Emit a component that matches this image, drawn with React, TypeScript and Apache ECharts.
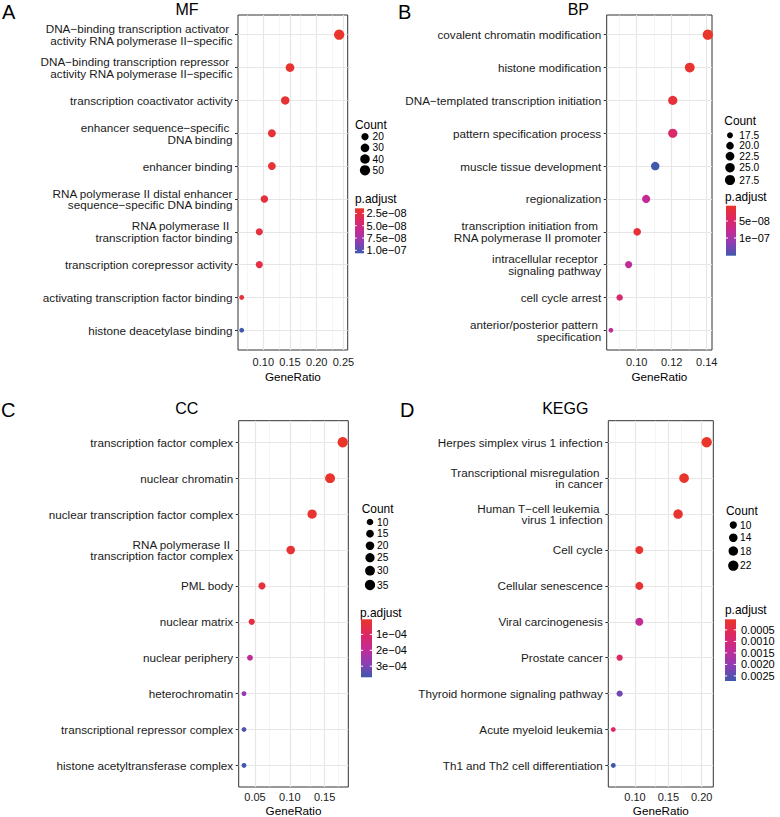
import React, { useEffect, useRef } from "react";
import * as echarts from "echarts";

const FONT = "'Liberation Sans', Arial, Helvetica, sans-serif";
const STOPS = ["#E9352A", "#DE2860", "#C42B93", "#8E3DB4", "#3F58AC"];

// ---------- MF ----------
const mfTerms = [
  "DNA−binding transcription activator \nactivity RNA polymerase II−specific",
  "DNA−binding transcription repressor \nactivity RNA polymerase II−specific",
  "transcription coactivator activity",
  "enhancer sequence−specific \nDNA binding",
  "enhancer binding",
  "RNA polymerase II distal enhancer\nsequence−specific DNA binding",
  "RNA polymerase II \ntranscription factor binding",
  "transcription corepressor activity",
  "activating transcription factor binding",
  "histone deacetylase binding",
];
const mfGeneRatio = [0.242, 0.15, 0.141, 0.116, 0.116, 0.102, 0.0925, 0.0925, 0.0595, 0.0595];
const mfCount = [50, 31, 29, 24, 24, 21, 19, 19, 12, 12];
const mfPAdjust = [1.5e-8, 1.7e-8, 1.9e-8, 2.1e-8, 2.0e-8, 2.3e-8, 2.4e-8, 2.6e-8, 2.2e-8, 1.06e-7];
const mfXLimits = [0.0526, 0.258];
const mfXTicks = [0.1, 0.15, 0.2, 0.25];
const mfCountBreaks = [20, 30, 40, 50];
const mfCountLabels = ["20", "30", "40", "50"];
const mfPLimits = [1.46e-8, 1.06e-7];
const mfPBreaks = [2.5e-8, 5.0e-8, 7.5e-8, 1.0e-7];
const mfPLabels = ["2.5e−08", "5.0e−08", "7.5e−08", "1.0e−07"];

// ---------- BP ----------
const bpTerms = [
  "covalent chromatin modification",
  "histone modification",
  "DNA−templated transcription initiation",
  "pattern specification process",
  "muscle tissue development",
  "regionalization",
  "transcription initiation from \nRNA polymerase II promoter",
  "intracellular receptor \nsignaling pathway",
  "cell cycle arrest",
  "anterior/posterior pattern \nspecification",
];
const bpGeneRatio = [0.1406, 0.1303, 0.1206, 0.1206, 0.1106, 0.1054, 0.1003, 0.0954, 0.0903, 0.0853];
const bpCount = [28, 26, 24, 24, 22, 21, 20, 19, 18, 17];
const bpPAdjust = [5e-9, 1.0e-8, 1.6e-8, 4.8e-8, 1.52e-7, 7.8e-8, 1.4e-8, 8.2e-8, 5.2e-8, 8.4e-8];
const bpXLimits = [0.0829, 0.143];
const bpXTicks = [0.1, 0.12, 0.14];
const bpCountBreaks = [17.5, 20, 22.5, 25, 27.5];
const bpCountLabels = ["17.5", "20.0", "22.5", "25.0", "27.5"];
const bpPLimits = [5e-9, 1.52e-7];
const bpPBreaks = [5e-8, 1e-7];
const bpPLabels = ["5e−08", "1e−07"];

// ---------- CC ----------
const ccTerms = [
  "transcription factor complex",
  "nuclear chromatin",
  "nuclear transcription factor complex",
  "RNA polymerase II \ntranscription factor complex",
  "PML body",
  "nuclear matrix",
  "nuclear periphery",
  "heterochromatin",
  "transcriptional repressor complex",
  "histone acetyltransferase complex",
];
const ccGeneRatio = [0.176, 0.1578, 0.132, 0.1013, 0.06, 0.0453, 0.0428, 0.0342, 0.0342, 0.0342];
const ccCount = [35, 31, 26, 20, 12, 9, 8, 7, 7, 7];
const ccPAdjust = [5e-6, 1e-5, 1.5e-5, 2.5e-5, 3.5e-5, 4.5e-5, 1.9e-4, 2.65e-4, 3.5e-4, 3.7e-4];
const ccXLimits = [0.0266, 0.184];
const ccXTicks = [0.05, 0.1, 0.15];
const ccCountBreaks = [10, 15, 20, 25, 30, 35];
const ccCountLabels = ["10", "15", "20", "25", "30", "35"];
const ccPLimits = [5e-6, 3.7e-4];
const ccPBreaks = [1e-4, 2e-4, 3e-4];
const ccPLabels = ["1e−04", "2e−04", "3e−04"];

// ---------- KEGG ----------
const keggTerms = [
  "Herpes simplex virus 1 infection",
  "Transcriptional misregulation \nin cancer",
  "Human T−cell leukemia \nvirus 1 infection",
  "Cell cycle",
  "Cellular senescence",
  "Viral carcinogenesis",
  "Prostate cancer",
  "Thyroid hormone signaling pathway",
  "Acute myeloid leukemia",
  "Th1 and Th2 cell differentiation",
];
const keggGeneRatio = [0.2075, 0.1736, 0.1646, 0.1065, 0.1065, 0.1065, 0.077, 0.077, 0.0675, 0.0675];
const keggCount = [22, 19, 18, 12, 12, 12, 8, 8, 7, 7];
const keggPAdjust = [4e-5, 6e-5, 1.1e-4, 1.3e-4, 1.5e-4, 1.4e-3, 7e-4, 2.3e-3, 7e-4, 2.72e-3];
const keggXLimits = [0.06, 0.2174];
const keggXTicks = [0.1, 0.15, 0.2];
const keggCountBreaks = [10, 14, 18, 22];
const keggCountLabels = ["10", "14", "18", "22"];
const keggPLimits = [4e-5, 2.72e-3];
const keggPBreaks = [0.0005, 0.001, 0.0015, 0.002, 0.0025];
const keggPLabels = ["0.0005", "0.0010", "0.0015", "0.0020", "0.0025"];

const panels = [
  { letter: "A", title: "MF", terms: mfTerms, ratio: mfGeneRatio, count: mfCount, p: mfPAdjust, xlim: mfXLimits, xticks: mfXTicks, cb: mfCountBreaks, cl: mfCountLabels, plim: mfPLimits, pb: mfPBreaks, pl: mfPLabels },
  { letter: "B", title: "BP", terms: bpTerms, ratio: bpGeneRatio, count: bpCount, p: bpPAdjust, xlim: bpXLimits, xticks: bpXTicks, cb: bpCountBreaks, cl: bpCountLabels, plim: bpPLimits, pb: bpPBreaks, pl: bpPLabels },
  { letter: "C", title: "CC", terms: ccTerms, ratio: ccGeneRatio, count: ccCount, p: ccPAdjust, xlim: ccXLimits, xticks: ccXTicks, cb: ccCountBreaks, cl: ccCountLabels, plim: ccPLimits, pb: ccPBreaks, pl: ccPLabels },
  { letter: "D", title: "KEGG", terms: keggTerms, ratio: keggGeneRatio, count: keggCount, p: keggPAdjust, xlim: keggXLimits, xticks: keggXTicks, cb: keggCountBreaks, cl: keggCountLabels, plim: keggPLimits, pb: keggPBreaks, pl: keggPLabels },
];

// layout (positions only)
const layouts = [
  { letter: [2, 12], title: [187, 9.5], grid: [238, 15, 109.7, 335], labMargin: 6, nameGap: 20, countTitle: [355, 125], countYs: [136.7, 147.9, 159, 170.3], circleX: 365, countLabelX: 372.5, pTitle: [355, 199], bar: [355, 208.3, 9, 45], pLabelX: 366.5 },
  { letter: [398, 12], title: [578.3, 9.5], grid: [606.7, 15, 105.3, 335], labMargin: 6, nameGap: 20, countTitle: [724.3, 120.7], countYs: [135.3, 145.7, 156.2, 167.7, 180], circleX: 730, countLabelX: 739.3, pTitle: [725, 197.3], bar: [726, 205.7, 10, 50], pLabelX: 739 },
  { letter: [1, 410.3], title: [186.7, 408.8], grid: [238.7, 420.7, 109.6, 367.6], labMargin: 4.5, nameGap: 17, countTitle: [361.7, 509], countYs: [522, 533.7, 545.7, 557.7, 570.7, 585], circleX: 370, countLabelX: 377, pTitle: [360, 612.7], bar: [361, 619.3, 11, 58], pLabelX: 376 },
  { letter: [400, 410.3], title: [565.3, 408.8], grid: [608.3, 420.7, 105, 367.6], labMargin: 4.5, nameGap: 17, countTitle: [726, 511], countYs: [525, 537.7, 551, 565.7], circleX: 733.3, countLabelX: 740, pTitle: [725, 610], bar: [725, 619.3, 11, 61.7], pLabelX: 741 },
];

const diam = (c: number, lo: number, hi: number) =>
  1.1 * (3 + 5 * Math.sqrt(Math.max(0, (c - lo) / (hi - lo)))) + 1.5;

function minorsOf(ticks: number[], lim: number[]) {
  const step = ticks[1] - ticks[0];
  const out: number[] = [];
  for (let k = -1; k < ticks.length + 2; k++) {
    const v = ticks[0] + step * k + step / 2;
    if (v > lim[0] && v < lim[1]) out.push(+v.toFixed(5));
  }
  return out;
}

function txt(x: number, y: number, text: string, size: number, align = "left", fill = "#000", lineHeight?: number) {
  return {
    type: "text",
    x,
    y,
    silent: true,
    style: {
      text,
      fontSize: size,
      fontFamily: FONT,
      fill,
      align,
      verticalAlign: "middle",
      textAlign: align,
      textVerticalAlign: "middle",
      ...(lineHeight ? { lineHeight } : {}),
    },
  };
}

function buildOption() {
  const grid: any[] = [];
  const xAxis: any[] = [];
  const yAxis: any[] = [];
  const series: any[] = [];
  const visualMap: any[] = [];
  const graphic: any[] = [];

  panels.forEach((pn, i) => {
    const L = layouts[i];
    const idx = pn.terms.map((_, j) => j);
    const cmin = Math.min(...pn.count);
    const cmax = Math.max(...pn.count);
    grid.push({
      left: L.grid[0],
      top: L.grid[1],
      width: L.grid[2],
      height: L.grid[3],
      show: true,
      borderColor: "#333333",
      borderWidth: 1,
      backgroundColor: "transparent",
      containLabel: false,
    });
    xAxis.push({
      type: "value",
      gridIndex: i,
      min: pn.xlim[0],
      max: pn.xlim[1],
      name: "GeneRatio",
      nameLocation: "middle",
      nameGap: L.nameGap,
      nameTextStyle: { fontSize: 11.7, color: "#000", fontFamily: FONT },
      axisLine: { show: false },
      splitLine: { show: false },
      axisTick: { show: true, length: 3, lineStyle: { color: "#333333", width: 1 }, customValues: pn.xticks },
      axisLabel: {
        customValues: pn.xticks,
        formatter: (v: number) => v.toFixed(2),
        fontSize: 11,
        color: "#1a1a1a",
        fontFamily: FONT,
        margin: L.labMargin,
      },
    });
    yAxis.push({
      type: "value",
      gridIndex: i,
      min: -0.6,
      max: pn.terms.length - 1 + 0.6,
      inverse: true,
      axisLine: { show: false },
      splitLine: { show: false },
      axisTick: { show: true, length: 3, lineStyle: { color: "#333333", width: 1 }, customValues: idx },
      axisLabel: {
        customValues: idx,
        formatter: (v: number) => pn.terms[Math.round(v)] ?? "",
        fontSize: 11.7,
        lineHeight: 11.6,
        color: "#1a1a1a",
        fontFamily: FONT,
        margin: 5.5,
        align: "right",
      },
    });
    const majors = pn.xticks.filter((v) => v > pn.xlim[0] && v < pn.xlim[1]);
    const minors = minorsOf(pn.xticks, pn.xlim);
    const lines: any[] = [
      ...minors.map((v) => ({ xAxis: v, lineStyle: { color: "#EEEEEE", width: 0.6, type: "solid" } })),
      ...majors.map((v) => ({ xAxis: v, lineStyle: { color: "#E6E6E6", width: 1.2, type: "solid" } })),
      ...idx.map((j) => ({ yAxis: j, lineStyle: { color: "#E6E6E6", width: 1.2, type: "solid" } })),
    ];
    series.push({
      type: "scatter",
      name: pn.title,
      xAxisIndex: i,
      yAxisIndex: i,
      z: 3,
      data: pn.terms.map((_, j) => [pn.ratio[j], j, pn.count[j], pn.p[j]]),
      symbol: "circle",
      symbolSize: (v: number[]) => diam(v[2], cmin, cmax),
      itemStyle: { opacity: 1 },
      emphasis: { disabled: true },
      markLine: {
        silent: true,
        z: 1,
        animation: false,
        symbol: ["none", "none"],
        label: { show: false },
        emphasis: { disabled: true },
        data: lines,
      },
    });
    visualMap.push({
      type: "continuous",
      show: false,
      seriesIndex: i,
      dimension: 3,
      min: pn.plim[0],
      max: pn.plim[1],
      inRange: { color: STOPS },
    });

    // panel letter & title
    graphic.push(txt(L.letter[0], L.letter[1], pn.letter, 20, "left"));
    graphic.push(txt(L.title[0], L.title[1], pn.title, 16, "center"));

    // Count legend
    graphic.push(txt(L.countTitle[0], L.countTitle[1], "Count", 11.9, "left"));
    pn.cb.forEach((c, k) => {
      const d = diam(c, cmin, cmax);
      graphic.push({
        type: "circle",
        silent: true,
        shape: { cx: L.circleX, cy: L.countYs[k], r: d / 2 },
        style: { fill: "#000" },
      });
      graphic.push(txt(L.countLabelX, L.countYs[k], pn.cl[k], 10.2, "left", "#000", 9.5));
    });

    // p.adjust colorbar
    graphic.push(txt(L.pTitle[0], L.pTitle[1], "p.adjust", 11.9, "left"));
    const [bx, by, bw, bh] = L.bar;
    graphic.push({
      type: "rect",
      silent: true,
      shape: { x: bx, y: by, width: bw, height: bh },
      style: {
        fill: {
          type: "linear",
          x: 0,
          y: 0,
          x2: 0,
          y2: 1,
          colorStops: STOPS.map((c, k) => ({ offset: k / (STOPS.length - 1), color: c })),
        },
      },
    });
    pn.pb.forEach((v, k) => {
      const ty = by + ((v - pn.plim[0]) / (pn.plim[1] - pn.plim[0])) * bh;
      graphic.push({ type: "line", silent: true, shape: { x1: bx, y1: ty, x2: bx + bw * 0.2, y2: ty }, style: { stroke: "#fff", lineWidth: 1 } });
      graphic.push({ type: "line", silent: true, shape: { x1: bx + bw * 0.8, y1: ty, x2: bx + bw, y2: ty }, style: { stroke: "#fff", lineWidth: 1 } });
      graphic.push(txt(L.pLabelX, ty, pn.pl[k], 11, "left", "#000", 10.5));
    });
  });

  return {
    animation: false,
    backgroundColor: "#ffffff",
    textStyle: { fontFamily: FONT },
    grid,
    xAxis,
    yAxis,
    series,
    visualMap,
    graphic: { elements: graphic },
  };
}

export default function App() {
  const ref = useRef<HTMLDivElement>(null);
  useEffect(() => {
    document.body.style.margin = "0";
    const chart = echarts.init(ref.current!, undefined, { renderer: "svg" });
    chart.setOption(buildOption() as any);
    return () => chart.dispose();
  }, []);
  return <div ref={ref} style={{ width: 780, height: 817 }} />;
}
